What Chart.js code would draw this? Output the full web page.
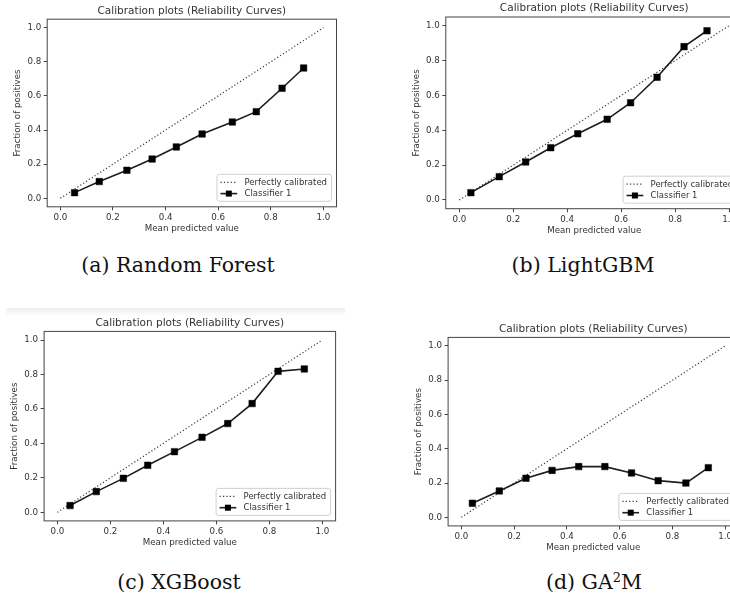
<!DOCTYPE html>
<html>
<head>
<meta charset="utf-8">
<script src="https://cdn.jsdelivr.net/npm/chart.js@4.4.1/dist/chart.umd.min.js"></script>
<style>
    html, body { margin: 0; padding: 0; background: #fff; }
    #pagina { position: relative; width: 730px; height: 596px; overflow: hidden; }
    #pagina canvas { position: absolute; }
    .legenda {
        position: absolute;
        font-family: 'DejaVu Serif', serif;
        font-size: 20.5px;
        line-height: 24px;
        color: #111;
        white-space: nowrap;
        transform: translateX(-50%);
    }
    .legenda sup { font-size: 13px; vertical-align: 7px; line-height: 0; }
    #faixa {
        position: absolute; left: 6px; top: 308px; width: 339px; height: 9px;
        background: linear-gradient(to bottom, #efefef, #fff);
    }
</style>
</head>
<body>
<div id="pagina">
    <div id="faixa"></div>
    <canvas id="graficoRF"></canvas>
    <canvas id="graficoLGBM"></canvas>
    <canvas id="graficoXGB"></canvas>
    <canvas id="graficoGA2M"></canvas>
    <div class="legenda" style="left:178px; top:253px;">(a) Random Forest</div>
    <div class="legenda" style="left:583px; top:253px;">(b) LightGBM</div>
    <div class="legenda" style="left:179px; top:570px;">(c) XGBoost</div>
    <div class="legenda" style="left:594px; top:570px;">(d) GA<sup>2</sup>M</div>
</div>
<script>
const ticksEixo = [0, 0.2, 0.4, 0.6, 0.8, 1.0];
const diagonalX = [0, 1];
const diagonalY = [0, 1];

const rfX = [0.054, 0.148, 0.253, 0.349, 0.441, 0.539, 0.654, 0.745, 0.843, 0.925];
const rfY = [0.033, 0.098, 0.164, 0.230, 0.301, 0.377, 0.447, 0.508, 0.645, 0.764];

const lgbmX = [0.043, 0.148, 0.246, 0.339, 0.439, 0.548, 0.635, 0.733, 0.833, 0.918];
const lgbmY = [0.042, 0.134, 0.218, 0.300, 0.380, 0.463, 0.558, 0.704, 0.880, 0.971];

const xgbX = [0.048, 0.147, 0.249, 0.341, 0.442, 0.546, 0.643, 0.735, 0.833, 0.932];
const xgbY = [0.039, 0.120, 0.197, 0.273, 0.352, 0.435, 0.515, 0.631, 0.818, 0.832];

const ga2mX = [0.042, 0.144, 0.245, 0.344, 0.445, 0.544, 0.645, 0.746, 0.851, 0.936];
const ga2mY = [0.082, 0.154, 0.228, 0.274, 0.296, 0.296, 0.259, 0.214, 0.200, 0.290];

const titulo = 'Calibration plots (Reliability Curves)';
const rotuloX = 'Mean predicted value';
const rotuloY = 'Fraction of positives';
const nomeDiagonal = 'Perfectly calibrated';
const nomeClassificador = 'Classifier 1';

// Área de plotagem de cada painel na página (px)
const paineis = [
    { id: 'graficoRF',   xs: rfX,   ys: rfY,   area: { l: 47.2,  t: 19.2,  r: 336.5, b: 206.8 } },
    { id: 'graficoLGBM', xs: lgbmX, ys: lgbmY, area: { l: 445.8, t: 17.0,  r: 742.6, b: 208.7 } },
    { id: 'graficoXGB',  xs: xgbX,  ys: xgbY,  area: { l: 44.1,  t: 331.4, r: 335.6, b: 520.9 } },
    { id: 'graficoGA2M', xs: ga2mX, ys: ga2mY, area: { l: 448.1, t: 337.4, r: 738.4, b: 525.9 } }
];

const fonte = 'DejaVu Sans';
const corTexto = '#333';
const larguraEixoY = 40;
const alturaEixoX = 31.5;
const alturaTitulo = 10.5 * 1.2 + 2;

// Moldura em volta da área de plotagem (como os "spines" do matplotlib)
const molduraPlugin = {
    id: 'moldura',
    afterDatasetsDraw(chart) {
        const { ctx, chartArea: a } = chart;
        ctx.save();
        ctx.strokeStyle = '#444';
        ctx.lineWidth = 1;
        ctx.strokeRect(a.left, a.top, a.right - a.left, a.bottom - a.top);
        ctx.restore();
    }
};

// Legenda desenhada dentro do gráfico, no canto inferior direito
const legendaPlugin = {
    id: 'legendaCaixa',
    afterDraw(chart) {
        const { ctx, chartArea: a } = chart;
        const series = chart.data.datasets;
        ctx.save();
        ctx.font = '8.5px "' + fonte + '"';
        const larguraTexto = Math.max(...series.map(d => ctx.measureText(d.label).width));
        const w = 3.5 + 16.7 + 7.3 + larguraTexto + 4.5;
        const h = 27;
        const x = a.right - 5 - w;
        const y = a.bottom - 5.5 - h;
        ctx.beginPath();
        ctx.roundRect(x, y, w, h, 2.5);
        ctx.fillStyle = 'rgba(255,255,255,0.8)';
        ctx.fill();
        ctx.strokeStyle = '#d0d0d0';
        ctx.lineWidth = 1;
        ctx.stroke();
        series.forEach((d, i) => {
            const cy = y + 8 + i * 11.3;
            ctx.strokeStyle = d.borderColor;
            ctx.lineWidth = d.borderWidth;
            ctx.setLineDash(d.borderDash || []);
            ctx.beginPath();
            ctx.moveTo(x + 3.5, cy);
            ctx.lineTo(x + 20.2, cy);
            ctx.stroke();
            ctx.setLineDash([]);
            if (d.pointRadius > 0) {
                ctx.fillStyle = d.pointBackgroundColor;
                ctx.fillRect(x + 11.85 - 3, cy - 3, 6, 6);
            }
            ctx.fillStyle = corTexto;
            ctx.textBaseline = 'middle';
            ctx.fillText(d.label, x + 27.5, cy + 0.5);
        });
        ctx.restore();
    }
};

// Função para criar um painel
function criarGrafico(painel) {
    const a = painel.area;
    const canvas = document.getElementById(painel.id);
    const esquerda = Math.floor(a.l - larguraEixoY - 2);
    const topo = Math.floor(a.t - alturaTitulo - 2);
    const direita = Math.ceil(a.r + 8);
    const fundo = Math.ceil(a.b + alturaEixoX + 2);
    canvas.width = direita - esquerda;
    canvas.height = fundo - topo;
    canvas.style.left = esquerda + 'px';
    canvas.style.top = topo + 'px';

    const eixoComum = {
        type: 'linear',
        min: -0.05,
        max: 1.05,
        afterBuildTicks: scale => { scale.ticks = ticksEixo.map(v => ({ value: v })); },
        grid: { display: true, drawOnChartArea: false, drawTicks: true, tickLength: 3.5, color: '#444', lineWidth: 1 },
        border: { display: false },
        ticks: {
            autoSkip: false,
            maxRotation: 0,
            color: corTexto,
            font: { family: fonte, size: 8.7 },
            callback: v => Number(v).toFixed(1)
        }
    };

    return new Chart(canvas, {
        type: 'line',
        data: {
            datasets: [
                {
                    label: nomeDiagonal,
                    data: diagonalX.map((x, i) => ({ x, y: diagonalY[i] })),
                    borderColor: '#3a3a3a',
                    borderWidth: 1.2,
                    borderDash: [1.2, 2.2],
                    pointRadius: 0,
                    order: 1
                },
                {
                    label: nomeClassificador,
                    data: painel.xs.map((x, i) => ({ x, y: painel.ys[i] })),
                    borderColor: '#1e1e1e',
                    borderWidth: 1.6,
                    pointStyle: 'rect',
                    pointRadius: 4.6,
                    pointBackgroundColor: '#000',
                    pointBorderColor: '#000',
                    pointBorderWidth: 0.5,
                    order: 0
                }
            ]
        },
        options: {
            responsive: false,
            animation: false,
            events: [],
            layout: {
                padding: {
                    left: a.l - larguraEixoY - esquerda,
                    top: a.t - alturaTitulo - topo,
                    right: direita - a.r,
                    bottom: fundo - a.b - alturaEixoX
                }
            },
            scales: {
                x: {
                    ...eixoComum,
                    position: 'bottom',
                    afterFit: scale => { scale.height = alturaEixoX; },
                    ticks: { ...eixoComum.ticks, padding: 2 },
                    title: { display: true, text: rotuloX, color: corTexto, font: { family: fonte, size: 8.7 }, padding: { top: 0, bottom: 4 } }
                },
                y: {
                    ...eixoComum,
                    position: 'left',
                    afterFit: scale => { scale.width = larguraEixoY; },
                    ticks: { ...eixoComum.ticks, padding: 2.5 },
                    title: { display: true, text: rotuloY, color: corTexto, font: { family: fonte, size: 8.7 }, padding: { top: 5.3, bottom: 0 } }
                }
            },
            plugins: {
                legend: { display: false },
                tooltip: { enabled: false },
                title: {
                    display: true,
                    text: titulo,
                    fullSize: false,
                    color: corTexto,
                    font: { family: fonte, size: 10.5, weight: 'normal', lineHeight: 1.2 },
                    padding: { top: 0, bottom: 2 }
                }
            }
        },
        plugins: [molduraPlugin, legendaPlugin]
    });
}

paineis.forEach(criarGrafico);
</script>
</body>
</html>
